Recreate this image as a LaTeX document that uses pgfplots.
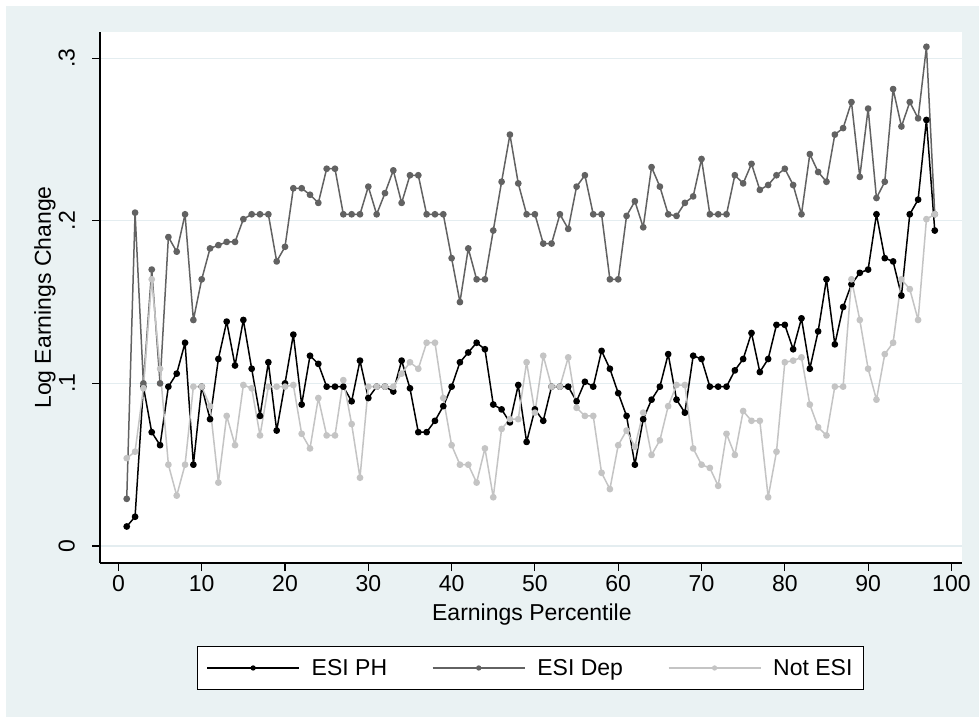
\documentclass[border=0pt]{standalone}
\usepackage{pgfplots}
\usepackage{pgfplotstable}
\pgfplotsset{compat=1.18}
\usepackage{fontspec}
\setmainfont{Liberation Sans}

\definecolor{stbg}{HTML}{EAF2F3}
\definecolor{stgrid}{HTML}{E4EDF0}
\definecolor{depcol}{HTML}{626262}
\definecolor{notcol}{HTML}{C4C4C4}
\newcommand{\stfont}{\fontsize{23}{27}\selectfont}

% log earnings change by earnings percentile
\pgfplotstableread{
p  ph    dep   not
1  0.012 0.029 0.054
2  0.018 0.205 0.058
3  0.098 0.100 0.097
4  0.070 0.170 0.164
5  0.062 0.100 0.109
6  0.098 0.190 0.050
7  0.106 0.181 0.031
8  0.125 0.204 0.050
9  0.050 0.139 0.098
10 0.098 0.164 0.098
11 0.078 0.183 0.086
12 0.115 0.185 0.039
13 0.138 0.187 0.080
14 0.111 0.187 0.062
15 0.139 0.201 0.099
16 0.109 0.204 0.097
17 0.080 0.204 0.068
18 0.113 0.204 0.098
19 0.071 0.175 0.098
20 0.100 0.184 0.098
21 0.130 0.220 0.099
22 0.087 0.220 0.069
23 0.117 0.216 0.060
24 0.112 0.211 0.091
25 0.098 0.232 0.068
26 0.098 0.232 0.068
27 0.098 0.204 0.102
28 0.089 0.204 0.075
29 0.114 0.204 0.042
30 0.091 0.221 0.098
31 0.098 0.204 0.098
32 0.098 0.217 0.098
33 0.095 0.231 0.098
34 0.114 0.211 0.106
35 0.097 0.228 0.113
36 0.070 0.228 0.109
37 0.070 0.204 0.125
38 0.077 0.204 0.125
39 0.086 0.204 0.091
40 0.098 0.177 0.062
41 0.113 0.150 0.050
42 0.119 0.183 0.050
43 0.125 0.164 0.039
44 0.121 0.164 0.060
45 0.087 0.194 0.030
46 0.084 0.224 0.072
47 0.076 0.253 0.078
48 0.099 0.223 0.078
49 0.064 0.204 0.113
50 0.084 0.204 0.082
51 0.077 0.186 0.117
52 0.098 0.186 0.098
53 0.098 0.204 0.098
54 0.098 0.195 0.116
55 0.089 0.221 0.085
56 0.101 0.228 0.080
57 0.098 0.204 0.080
58 0.120 0.204 0.045
59 0.109 0.164 0.035
60 0.094 0.164 0.062
61 0.080 0.203 0.071
62 0.050 0.212 0.061
63 0.078 0.196 0.082
64 0.090 0.233 0.056
65 0.098 0.221 0.065
66 0.118 0.204 0.086
67 0.090 0.203 0.099
68 0.082 0.211 0.099
69 0.117 0.215 0.060
70 0.115 0.238 0.050
71 0.098 0.204 0.048
72 0.098 0.204 0.037
73 0.098 0.204 0.069
74 0.108 0.228 0.056
75 0.115 0.223 0.083
76 0.131 0.235 0.077
77 0.107 0.219 0.077
78 0.115 0.222 0.030
79 0.136 0.228 0.058
80 0.136 0.232 0.113
81 0.121 0.222 0.114
82 0.140 0.204 0.116
83 0.109 0.241 0.087
84 0.132 0.230 0.073
85 0.164 0.224 0.068
86 0.124 0.253 0.098
87 0.147 0.257 0.098
88 0.161 0.273 0.164
89 0.168 0.227 0.139
90 0.170 0.269 0.109
91 0.204 0.214 0.090
92 0.177 0.224 0.118
93 0.175 0.281 0.125
94 0.154 0.258 0.164
95 0.204 0.273 0.158
96 0.213 0.263 0.139
97 0.262 0.307 0.201
98 0.194 0.204 0.204
}\earnings

\begin{document}
\begin{tikzpicture}[x=1pt,y=1pt]
% white outer margin, then the light graph region
\fill[white] (0,0) rectangle (979,717);
\fill[stbg] (6,0) rectangle (979,711);
\begin{axis}[
  at={(100pt,154pt)}, anchor=south west,
  scale only axis, width=862pt, height=531pt,
  xmin=-2.21, xmax=101.27, ymin=-0.01045, ymax=0.3161,
  axis background/.style={fill=white},
  axis x line*=bottom, axis y line*=left,
  axis line style={line width=1.2pt, black, -},
  tick align=outside, major tick length=8pt,
  tick style={line width=1.1pt, black},
  xtick={0,10,...,100},
  ytick={0,0.1,0.2,0.3},
  yticklabels={0,.1,.2,.3},
  /pgf/number format/assume math mode=true,
  ticklabel style={font=\stfont},
  xticklabel style={inner sep=2pt},
  xticklabel shift=2pt,
  yticklabel style={rotate=90, anchor=south, inner sep=2pt},
  yticklabel shift=15pt,
  ymajorgrids, grid style={stgrid, line width=1.2pt},
  xlabel={Earnings Percentile},
  ylabel={Log Earnings Change},
  every axis x label/.style={at={(axis description cs:0.501,-0.098)}, anchor=center, font=\stfont},
  every axis y label/.style={at={(axis description cs:-0.0638,0.5)}, anchor=center, rotate=90, font=\stfont},
  legend columns=3,
  legend cell align=left,
  legend style={at={(axis description cs:0.4994,-0.1977)}, anchor=center,
    draw=black, line width=0.8pt, fill=white, font=\stfont,
    inner xsep=9pt, inner ysep=11pt, nodes={inner sep=2pt},
    /tikz/every odd column/.append style={column sep=10pt},
    /tikz/every even column/.append style={column sep=43pt}},
  legend image code/.code={\draw[mark repeat=2, mark phase=2, #1, line width=1.2pt, mark size=2pt]
    plot coordinates {(0pt,0pt) (46pt,0pt) (92pt,0pt)};},
  clip=false,
]
\addplot[black, line width=1.5pt, line join=round, mark=*, mark size=2.6pt]
  table[x=p, y=ph] {\earnings};
\addlegendentry{ESI PH}
\addplot[depcol, line width=1.5pt, line join=round, mark=*, mark size=2.6pt]
  table[x=p, y=dep] {\earnings};
\addlegendentry{ESI Dep}
\addplot[notcol, line width=1.5pt, line join=round, mark=*, mark size=2.6pt]
  table[x=p, y=not] {\earnings};
\addlegendentry{Not ESI}
\end{axis}
\end{tikzpicture}
\end{document}
